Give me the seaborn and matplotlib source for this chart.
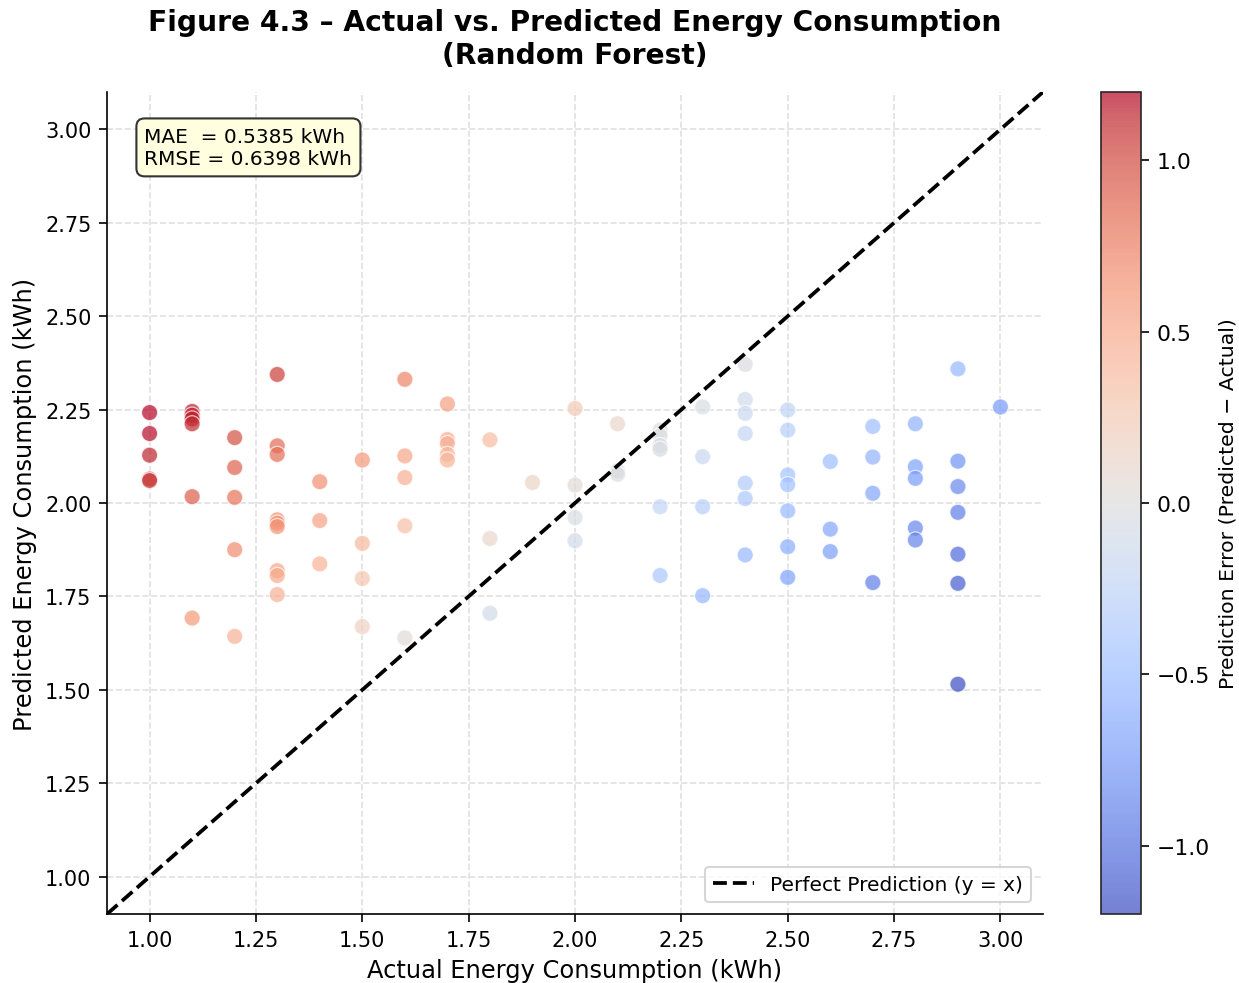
import numpy as np
import pandas as pd
import matplotlib
matplotlib.use("Agg")
import matplotlib.pyplot as plt
import seaborn as sns
from matplotlib.colors import Normalize

# Values (test set, kWh)
actual = [
    1.0, 1.0, 1.0, 1.0, 1.0,
    1.1, 1.1, 1.1, 1.1, 1.1, 1.1,
    1.2, 1.2, 1.2, 1.2, 1.2,
    1.3, 1.3, 1.3, 1.3, 1.3, 1.3, 1.3, 1.3, 1.3,
    1.4, 1.4, 1.4,
    1.5, 1.5, 1.5, 1.5,
    1.6, 1.6, 1.6, 1.6, 1.6,
    1.7, 1.7, 1.7, 1.7, 1.7,
    1.8, 1.8, 1.8,
    1.9,
    2.0, 2.0, 2.0, 2.0,
    2.1, 2.1, 2.1,
    2.2, 2.2, 2.2, 2.2, 2.2, 2.2,
    2.3, 2.3, 2.3, 2.3,
    2.4, 2.4, 2.4, 2.4, 2.4, 2.4, 2.4,
    2.5, 2.5, 2.5, 2.5, 2.5, 2.5, 2.5,
    2.6, 2.6, 2.6,
    2.7, 2.7, 2.7, 2.7,
    2.8, 2.8, 2.8, 2.8, 2.8,
    2.9, 2.9, 2.9, 2.9, 2.9, 2.9, 2.9,
    3.0,
]
predicted = [
    2.242, 2.186, 2.128, 2.064, 2.060,
    2.245, 2.235, 2.225, 2.212, 2.017, 1.692,
    2.175, 2.095, 2.015, 1.875, 1.643,
    2.344, 2.153, 2.130, 1.955, 1.946, 1.937, 1.819, 1.806, 1.755,
    2.057, 1.953, 1.837,
    2.115, 1.892, 1.798, 1.669,
    2.331, 2.126, 2.068, 1.939, 1.639,
    2.265, 2.170, 2.159, 2.130, 2.115,
    2.169, 1.905, 1.705,
    2.055,
    2.253, 2.048, 1.961, 1.899,
    2.212, 2.086, 2.077,
    2.195, 2.180, 2.154, 2.144, 1.990, 1.806,
    2.257, 2.124, 1.990, 1.752,
    2.371, 2.277, 2.240, 2.186, 2.053, 2.012, 1.861,
    2.249, 2.195, 2.075, 2.049, 1.979, 1.883, 1.801,
    2.111, 1.930, 1.870,
    2.205, 2.123, 2.026, 1.787,
    2.212, 2.097, 2.066, 1.933, 1.901,
    2.359, 2.112, 2.044, 1.975, 1.863, 1.785, 1.515,
    2.257,
]

mae_text = "MAE  = 0.5385 kWh\nRMSE = 0.6398 kWh"
ticks = [1.00, 1.25, 1.50, 1.75, 2.00, 2.25, 2.50, 2.75, 3.00]
err_lim = 1.2

df = pd.DataFrame({"actual": actual, "predicted": predicted})
df["error"] = df["predicted"] - df["actual"]

sns.set_style("white")
plt.rcParams["font.family"] = ["DejaVu Sans"]
plt.rcParams["text.color"] = "black"
plt.rcParams["axes.labelcolor"] = "black"
plt.rcParams["xtick.color"] = "black"
plt.rcParams["ytick.color"] = "black"

fig = plt.figure(figsize=(1239 / 150, 984 / 150), dpi=150)
ax = fig.add_axes([0.0864, 0.0701, 0.7554, 0.8354])
cax = fig.add_axes([0.8886, 0.0701, 0.0323, 0.8354])

norm = Normalize(vmin=-err_lim, vmax=err_lim)
sns.scatterplot(data=df, x="actual", y="predicted", hue="error",
                palette="coolwarm", hue_norm=norm, s=60, alpha=0.7,
                edgecolor="white", linewidth=0.6, legend=False, ax=ax, zorder=3)

lims = [0.9, 3.1]
ax.plot(lims, lims, "k--", lw=1.8, label="Perfect Prediction (y = x)", zorder=4)
ax.set_xlim(lims)
ax.set_ylim(lims)
ax.set_xticks(ticks)
ax.set_yticks(ticks)
ax.set_xticklabels([f"{t:.2f}" for t in ticks], fontsize=10)
ax.set_yticklabels([f"{t:.2f}" for t in ticks], fontsize=10)
ax.tick_params(axis="both", length=4, width=0.8, direction="out", bottom=True, left=True)
ax.grid(True, linestyle="--", color="#e0e0e0", linewidth=0.8, zorder=0)
ax.set_axisbelow(True)
sns.despine(ax=ax)
for sp in ["left", "bottom"]:
    ax.spines[sp].set_color("black")
    ax.spines[sp].set_linewidth(0.8)

ax.set_xlabel("Actual Energy Consumption (kWh)", fontsize=11.6)
ax.set_ylabel("Predicted Energy Consumption (kWh)", fontsize=11.6)
ax.set_title("Figure 4.3 \u2013 Actual vs. Predicted Energy Consumption\n(Random Forest)",
             fontsize=13.5, fontweight="bold", pad=14)

ax.text(0.040, 0.958, mae_text, transform=ax.transAxes, fontsize=9.7,
        va="top", ha="left", zorder=6, linespacing=1.25,
        bbox=dict(boxstyle="round,pad=0.4", facecolor="#ffffe0",
                  edgecolor="#333333", linewidth=1.0))

ax.legend(loc="lower right", fontsize=9.7, frameon=True, handlelength=2.0,
          borderaxespad=0.6)

sm = plt.cm.ScalarMappable(cmap="coolwarm", norm=norm)
sm.set_array([])
cb = fig.colorbar(sm, cax=cax)
cb.solids.set_alpha(0.7)
cb.set_ticks([-1.0, -0.5, 0.0, 0.5, 1.0])
cb.ax.tick_params(labelsize=10.5, length=4)
cb.set_label("Prediction Error (Predicted \u2212 Actual)", fontsize=9.8)

fig.savefig("out.png", dpi=150)
